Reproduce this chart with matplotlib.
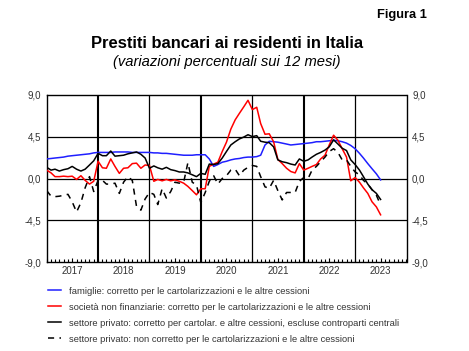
import matplotlib
matplotlib.use("Agg")
import matplotlib.pyplot as plt
import matplotlib.dates as mdates
from matplotlib.ticker import FixedLocator, NullFormatter
import pandas as pd
import numpy as np

plt.rcParams['font.family'] = ['Liberation Sans', 'DejaVu Sans']

dates = pd.date_range('2017-01-01', periods=79, freq='MS')

famiglie = [2.1, 2.15, 2.2, 2.25, 2.3, 2.4, 2.45, 2.5, 2.55, 2.6, 2.65, 2.75,
            2.8, 2.8, 2.8, 2.8, 2.85, 2.85, 2.85, 2.85, 2.8, 2.8, 2.8, 2.8,
            2.8, 2.75, 2.75, 2.7, 2.7, 2.65, 2.6, 2.55, 2.5, 2.5, 2.5, 2.55,
            2.55, 2.55, 2.1, 1.3, 1.5, 1.75, 1.85, 2.0, 2.1, 2.15, 2.25, 2.3,
            2.3, 2.35, 2.5, 3.6, 4.0, 3.95, 3.9, 3.8, 3.7, 3.6, 3.65, 3.7,
            3.75, 3.8, 3.85, 3.95, 3.95, 4.0, 4.05, 4.1, 4.05, 3.95, 3.8, 3.55,
            3.2, 2.7, 2.2, 1.6, 1.05, 0.5, -0.15]

imprese = [0.9, 0.6, 0.2, 0.2, 0.25, 0.2, 0.25, -0.1, 0.3, -0.2, -0.6, -0.3,
           1.85, 1.15, 1.1, 2.1, 1.3, 0.55, 1.1, 1.15, 1.6, 1.65, 1.1, 1.45,
           1.4, -0.3, -0.1, -0.25, -0.1, -0.25, -0.15, -0.3, -0.5, -0.85, -1.3, -1.75,
           -1.1, -1.1, 1.3, 1.55, 1.75, 2.9, 3.9, 5.3, 6.3, 7.0, 7.7, 8.4,
           7.4, 7.65, 5.9, 4.75, 4.8, 3.95, 2.05, 1.6, 1.1, 0.75, 0.6, 1.6,
           0.9, 1.1, 1.3, 1.5, 2.1, 2.5, 3.6, 4.65, 4.1, 3.2, 2.3, -0.25,
           0.1, -0.4, -1.0, -1.6, -2.5, -3.05, -3.9]

privato_ccp = [1.2, 0.9, 1.0, 0.8, 0.95, 1.05, 1.3, 1.0, 0.8, 1.0, 1.45, 1.9,
               2.7, 2.45, 2.45, 2.95, 2.4, 2.45, 2.5, 2.65, 2.75, 2.85, 2.6, 2.2,
               1.1, 1.35, 1.15, 1.0, 1.2, 0.95, 0.85, 0.7, 0.7, 0.6, 0.4, 0.2,
               0.55, 0.45, 1.55, 1.5, 1.6, 2.2, 2.9, 3.6, 3.95, 4.25, 4.45, 4.7,
               4.5, 4.6, 4.0, 3.9, 3.85, 3.4, 2.0, 1.8, 1.7, 1.55, 1.45, 2.1,
               1.85, 2.0, 2.3, 2.6, 2.8, 3.05, 3.4, 4.15, 3.7, 3.25, 3.0, 2.0,
               1.5, 0.9, 0.2, -0.6, -1.2, -1.6, -2.25]

privato_non_corr = [-1.3, -1.9, -1.95, -1.9, -1.8, -1.7, -2.5, -3.6, -2.6, -1.0, 0.2, -1.4,
                    -0.2, -0.2, -0.6, -0.6, -0.5, -1.6, -0.4, 0.2, -0.2, -3.0, -3.4, -2.2,
                    -1.5, -1.7, -2.8, -1.1, -2.1, -1.4, -0.4, -0.5, -0.4, 1.7, -0.4, -0.7,
                    -2.6, -1.5, -0.3, 0.3, -0.6, 0.0, 0.3, 0.9, 1.0, 0.3, 0.9, 1.2,
                    1.4, 1.3, 0.2, -0.9, -1.05, -0.2, -1.3, -2.3, -1.5, -1.5, -1.5, -0.3,
                    0.1, 0.0, 0.9, 1.3, 1.8, 2.3, 2.9, 3.2, 2.8, 2.0, 2.0, 1.3,
                    0.7, 0.4, -0.2, -0.6, -1.2, -1.8, -2.85]

labels = ["famiglie: corretto per le cartolarizzazioni e le altre cessioni",
          "società non finanziarie: corretto per le cartolarizzazioni e le altre cessioni",
          "settore privato: corretto per cartolar. e altre cessioni, escluse controparti centrali",
          "settore privato: non corretto per le cartolarizzazioni e le altre cessioni"]

years = [2017, 2018, 2019, 2020, 2021, 2022, 2023]
yticks = [-9.0, -4.5, 0.0, 4.5, 9.0]

W, H = 469, 351
fig = plt.figure(figsize=(W / 100, H / 100), dpi=100)
ax = fig.add_axes([46.7 / W, 1 - 262.3 / H, (406.5 - 46.7) / W, (262.3 - 94.7) / H])

ax.set_ylim(-9, 9)
x0 = mdates.date2num(pd.Timestamp('2017-01-01'))
x1 = mdates.date2num(pd.Timestamp('2024-01-01'))
ax.set_xlim(x0, x1)

# grid
for v in [-4.5, 0.0, 4.5]:
    ax.axhline(v, color='black', lw=0.9, zorder=1)
for y in years[1:]:
    lw = 1.5 if y in (2018, 2020, 2022) else 0.9
    ax.axvline(mdates.date2num(pd.Timestamp(f'{y}-01-01')), color='black', lw=lw, zorder=1)

l1, = ax.plot(dates, famiglie, color='#1f1fff', lw=1.1, zorder=3)
l2, = ax.plot(dates, imprese, color='#ff0000', lw=1.1, zorder=4)
l3, = ax.plot(dates, privato_ccp, color='black', lw=1.1, zorder=5)
l4, = ax.plot(dates, privato_non_corr, color='black', lw=1.1, dashes=(4, 3.5), zorder=5)

# ticks
mids = [mdates.date2num(pd.Timestamp(f'{y}-07-01')) for y in years]
ax.xaxis.set_major_locator(FixedLocator(mids))
ax.set_xticklabels([str(y) for y in years])
months = mdates.date2num(pd.date_range('2017-01-01', '2024-01-01', freq='MS'))
ax.xaxis.set_minor_locator(FixedLocator(months))
ax.xaxis.set_minor_formatter(NullFormatter())
ax.tick_params(axis='x', which='major', direction='in', length=3, width=0.8,
               labelsize=7, labelcolor='#333333', pad=3)
ax.tick_params(axis='x', which='minor', direction='in', length=2, width=0.8)

ax.set_yticks(yticks)
ax.set_yticklabels([f"{v:.1f}".replace('.', ',') for v in yticks])
ax.tick_params(axis='y', which='both', length=0, labelsize=7, labelcolor='#333333',
               left=True, right=True, labelleft=True, labelright=True, pad=4)

for s in ax.spines.values():
    s.set_linewidth(1.0)
    s.set_color('black')

# titles
fig.text(427 / W, 1 - 15 / H, "Figura 1", ha='right', va='center', fontsize=9.3,
         fontweight='bold')
fig.text(227 / W, 1 - 43 / H, "Prestiti bancari ai residenti in Italia", ha='center',
         va='center', fontsize=11.9, fontweight='bold')
fig.text(227 / W, 1 - 62 / H, "(variazioni percentuali sui 12 mesi)", ha='center',
         va='center', fontsize=10.6, style='italic')

leg = fig.legend([l1, l2, l3, l4], labels, loc='upper left',
                 bbox_to_anchor=(48 / W, 1 - 286.5 / H), frameon=False, fontsize=6.75,
                 handlelength=1.4, handletextpad=0.8, labelspacing=0.75,
                 borderaxespad=0, borderpad=0)
for t in leg.get_texts():
    t.set_color('#333333')

fig.savefig('out.png', dpi=100)
